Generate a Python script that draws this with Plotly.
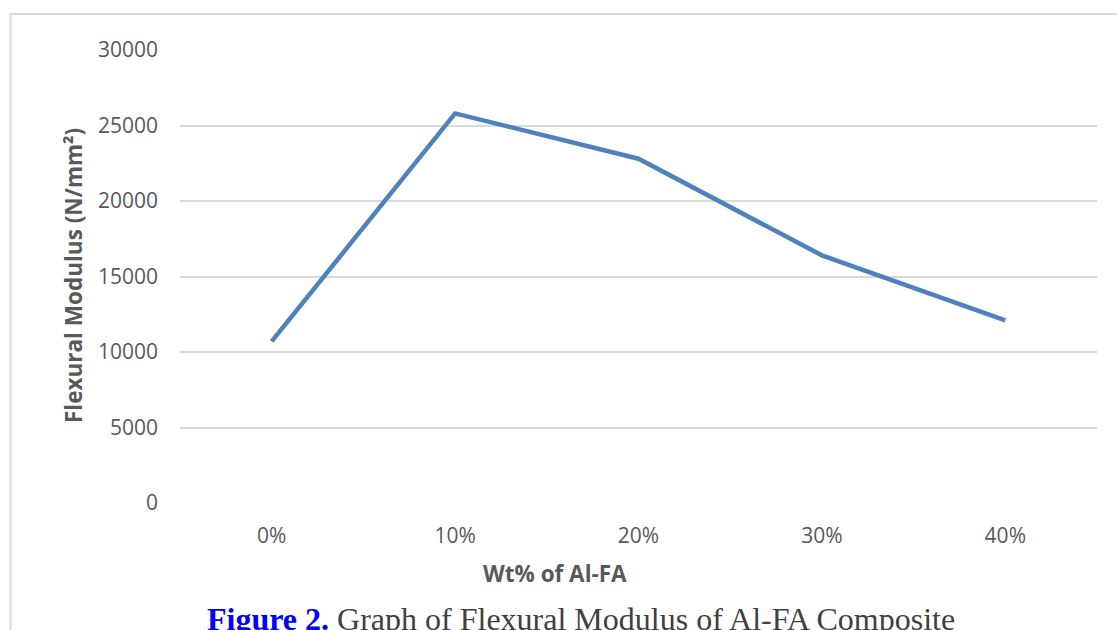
import plotly.graph_objects as go

categories = ["0%", "10%", "20%", "30%", "40%"]
modulus = [10700, 25800, 22800, 16400, 12100]
y_ticks = [0, 5000, 10000, 15000, 20000, 25000, 30000]

W, H = 1117, 630
L, R, T, B = 180, 20, 50, 127
PW, PH = W - L - R, H - T - B

def px(x):
    return (x - L) / PW

def py(y):
    return (H - B - y) / PH

fig = go.Figure()
fig.add_trace(go.Scatter(
    x=categories, y=modulus, mode="lines",
    line=dict(color="#4f81bd", width=4.5),
    showlegend=False, hoverinfo="x+y",
))

tick_font = dict(family="Open Sans, Calibri, sans-serif", size=21, color="#595959")
title_font = dict(family="Open Sans, Calibri, sans-serif", size=22.5, color="#595959")

fig.update_layout(
    width=W, height=H,
    margin=dict(l=L, r=R, t=T, b=B),
    paper_bgcolor="white", plot_bgcolor="white",
    xaxis=dict(
        type="category", range=[-0.5, 4.5],
        showgrid=False, zeroline=False, showline=False,
        tickfont=tick_font, ticks="", ticklabelstandoff=18,
    ),
    yaxis=dict(
        range=[0, 30000], tickvals=y_ticks,
        ticktext=[str(v) for v in y_ticks],
        showgrid=True, gridcolor="#d9d9d9", gridwidth=1.5,
        zeroline=False, showline=False,
        tickfont=tick_font, ticks="", ticklabelstandoff=21,
    ),
    shapes=[
        dict(type="rect", xref="paper", yref="paper",
             x0=px(10.5), x1=px(1140), y0=py(14), y1=py(700),
             line=dict(color="#d9d9d9", width=2), fillcolor="rgba(0,0,0,0)",
             layer="below"),
    ],
    annotations=[
        dict(text="<b>Wt% of Al-FA</b>", xref="paper", yref="paper",
             x=px(555), y=py(573), xanchor="center", yanchor="middle",
             showarrow=False, font=title_font),
        dict(text="<b>Flexural Modulus (N/mm²)</b>", xref="paper", yref="paper",
             x=px(73), y=py(276), xanchor="center", yanchor="middle",
             textangle=-90, showarrow=False, font=title_font),
        dict(text="<span style='color:#0000ff'><b>Figure 2.</b></span> Graph of Flexural Modulus of Al-FA Composite",
             xref="paper", yref="paper",
             x=px(581), y=py(619), xanchor="center", yanchor="middle",
             showarrow=False,
             font=dict(family="Liberation Serif, Times New Roman, serif", size=32, color="#404040")),
    ],
)

fig.write_html("out.html",
               config={"displayModeBar": False},
               post_script="document.body.style.margin='0';document.body.style.overflow='hidden';")
